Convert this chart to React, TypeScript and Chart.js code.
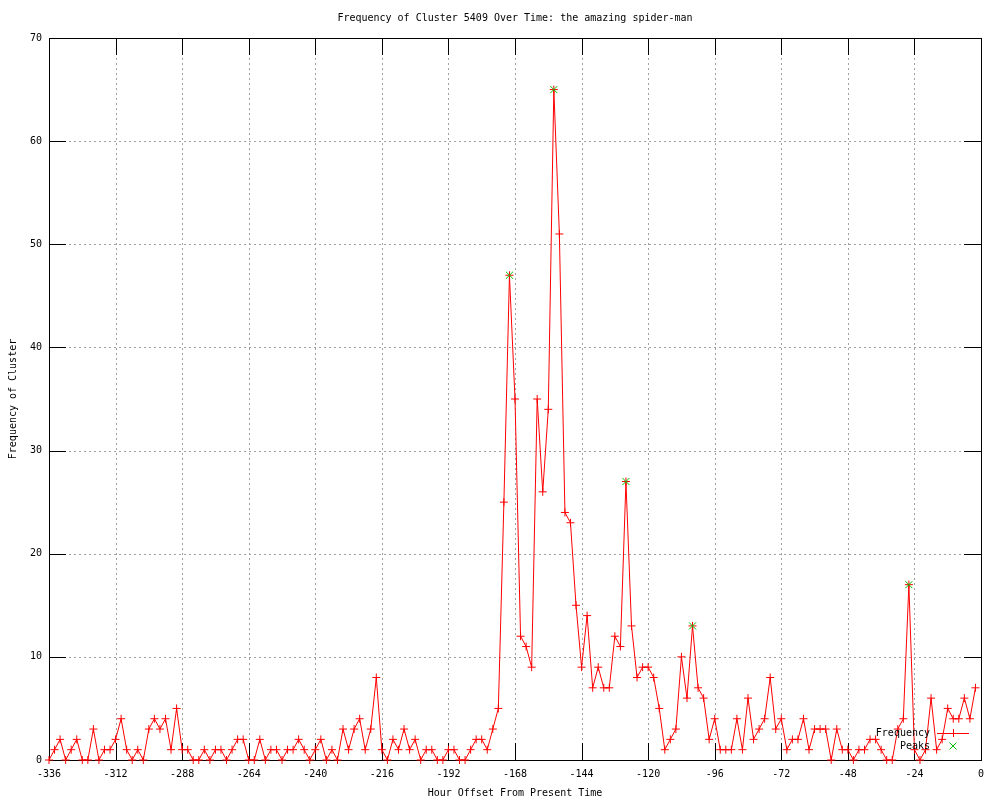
import React, { useEffect, useRef } from 'react';
import { Chart, registerables } from 'chart.js';

Chart.register(...registerables);

const TITLE = 'Frequency of Cluster 5409 Over Time: the amazing spider-man';
const X_TITLE = 'Hour Offset From Present Time';
const Y_TITLE = 'Frequency of Cluster';

const HOURS = [
  -336, -334, -332, -330, -328, -326, -324, -322, -320, -318, -316, -314,
  -312, -310, -308, -306, -304, -302, -300, -298, -296, -294, -292, -290,
  -288, -286, -284, -282, -280, -278, -276, -274, -272, -270, -268, -266,
  -264, -262, -260, -258, -256, -254, -252, -250, -248, -246, -244, -242,
  -240, -238, -236, -234, -232, -230, -228, -226, -224, -222, -220, -218,
  -216, -214, -212, -210, -208, -206, -204, -202, -200, -198, -196, -194,
  -192, -190, -188, -186, -184, -182, -180, -178, -176, -174, -172, -170,
  -168, -166, -164, -162, -160, -158, -156, -154, -152, -150, -148, -146,
  -144, -142, -140, -138, -136, -134, -132, -130, -128, -126, -124, -122,
  -120, -118, -116, -114, -112, -110, -108, -106, -104, -102, -100, -98,
  -96, -94, -92, -90, -88, -86, -84, -82, -80, -78, -76, -74,
  -72, -70, -68, -66, -64, -62, -60, -58, -56, -54, -52, -50,
  -48, -46, -44, -42, -40, -38, -36, -34, -32, -30, -28, -26,
  -24, -22, -20, -18, -16, -14, -12, -10, -8, -6, -4, -2,
];

const FREQUENCY = [
  0, 1, 2, 0, 1, 2, 0, 0, 3, 0, 1, 1,
  2, 4, 1, 0, 1, 0, 3, 4, 3, 4, 1, 5,
  1, 1, 0, 0, 1, 0, 1, 1, 0, 1, 2, 2,
  0, 0, 2, 0, 1, 1, 0, 1, 1, 2, 1, 0,
  1, 2, 0, 1, 0, 3, 1, 3, 4, 1, 3, 8,
  1, 0, 2, 1, 3, 1, 2, 0, 1, 1, 0, 0,
  1, 1, 0, 0, 1, 2, 2, 1, 3, 5, 25, 47,
  35, 12, 11, 9, 35, 26, 34, 65, 51, 24, 23, 15,
  9, 14, 7, 9, 7, 7, 12, 11, 27, 13, 8, 9,
  9, 8, 5, 1, 2, 3, 10, 6, 13, 7, 6, 2,
  4, 1, 1, 1, 4, 1, 6, 2, 3, 4, 8, 3,
  4, 1, 2, 2, 4, 1, 3, 3, 3, 0, 3, 1,
  1, 0, 1, 1, 2, 2, 1, 0, 0, 3, 4, 17,
  1, 0, 1, 6, 1, 2, 5, 4, 4, 6, 4, 7,
];

const PEAK_HOURS = [-170, -154, -128, -104, -26];
const PEAK_VALUES = [47, 65, 27, 13, 17];

const X_MIN = -336;
const X_MAX = 0;
const X_STEP = 24;
const Y_MIN = 0;
const Y_MAX = 70;
const Y_STEP = 10;

const FONT = '10px "DejaVu Sans Mono"';
const RED = '#ff0000';
const GREEN = '#00c000';
const GRID = '#a0a0a0';
const TICK_LEN = 17;

const decorPlugin = {
  id: 'gnuplotDecor',
  beforeDatasetsDraw(chart: any) {
    const { ctx, chartArea } = chart;
    const { left, right, top, bottom } = chartArea;
    const xs = chart.scales.x;
    const ys = chart.scales.y;
    ctx.save();
    // grid
    ctx.strokeStyle = GRID;
    ctx.lineWidth = 1;
    ctx.setLineDash([2, 3]);
    xs.ticks.forEach((t: any) => {
      if (t.value <= X_MIN || t.value >= X_MAX) return;
      const px = Math.round(xs.getPixelForValue(t.value)) + 0.5;
      ctx.beginPath();
      ctx.moveTo(px, top);
      ctx.lineTo(px, bottom);
      ctx.stroke();
    });
    ys.ticks.forEach((t: any) => {
      if (t.value <= Y_MIN || t.value >= Y_MAX) return;
      const py = Math.round(ys.getPixelForValue(t.value)) + 0.5;
      ctx.beginPath();
      ctx.moveTo(left, py);
      ctx.lineTo(right, py);
      ctx.stroke();
    });
    ctx.setLineDash([]);
    // tick marks
    ctx.strokeStyle = '#000';
    xs.ticks.forEach((t: any) => {
      const px = Math.round(xs.getPixelForValue(t.value)) + 0.5;
      ctx.beginPath();
      ctx.moveTo(px, bottom);
      ctx.lineTo(px, bottom - TICK_LEN);
      ctx.moveTo(px, top);
      ctx.lineTo(px, top + TICK_LEN);
      ctx.stroke();
    });
    ys.ticks.forEach((t: any) => {
      const py = Math.round(ys.getPixelForValue(t.value)) + 0.5;
      ctx.beginPath();
      ctx.moveTo(left, py);
      ctx.lineTo(left + TICK_LEN, py);
      ctx.moveTo(right, py);
      ctx.lineTo(right - TICK_LEN, py);
      ctx.stroke();
    });
    // frame
    ctx.strokeRect(Math.round(left) + 0.5, Math.round(top) + 0.5, Math.round(right - left), Math.round(bottom - top));
    ctx.restore();
  },
  afterDraw(chart: any) {
    const { ctx, chartArea } = chart;
    const { left, right, top, bottom } = chartArea;
    const cx = (left + right) / 2;
    ctx.save();
    ctx.font = FONT;
    ctx.fillStyle = '#000';
    ctx.textBaseline = 'middle';
    ctx.textAlign = 'center';
    ctx.fillText(TITLE, cx, 18);
    ctx.fillText(X_TITLE, cx, 793);
    ctx.save();
    ctx.translate(13, (top + bottom) / 2);
    ctx.rotate(-Math.PI / 2);
    ctx.fillText(Y_TITLE, 0, 0);
    ctx.restore();
    // key
    const ds = chart.data.datasets;
    ctx.textAlign = 'right';
    const keyTextX = 930;
    const keyY0 = 733;
    const keyDy = 13;
    const sampleX1 = 937;
    const sampleX2 = 969;
    const sampleMid = 953;
    ctx.fillText(ds[0].label, keyTextX, keyY0);
    ctx.fillText(ds[1].label, keyTextX, keyY0 + keyDy);
    ctx.lineWidth = 1;
    ctx.strokeStyle = RED;
    ctx.beginPath();
    ctx.moveTo(sampleX1, keyY0 + 0.5);
    ctx.lineTo(sampleX2, keyY0 + 0.5);
    ctx.moveTo(sampleMid + 0.5, keyY0 - 4);
    ctx.lineTo(sampleMid + 0.5, keyY0 + 4);
    ctx.stroke();
    ctx.strokeStyle = GREEN;
    const gy = keyY0 + keyDy;
    ctx.beginPath();
    ctx.moveTo(sampleMid - 3.5, gy - 3.5);
    ctx.lineTo(sampleMid + 3.5, gy + 3.5);
    ctx.moveTo(sampleMid - 3.5, gy + 3.5);
    ctx.lineTo(sampleMid + 3.5, gy - 3.5);
    ctx.stroke();
    ctx.restore();
  },
};

export default function App() {
  const canvasRef = useRef<HTMLCanvasElement | null>(null);

  useEffect(() => {
    const canvas = canvasRef.current;
    if (!canvas) return;
    const chart = new Chart(canvas, {
      type: 'line',
      data: {
        datasets: [
          {
            label: 'Frequency',
            data: HOURS.map((h, i) => ({ x: h, y: FREQUENCY[i] })),
            borderColor: RED,
            backgroundColor: RED,
            borderWidth: 1,
            pointStyle: 'cross',
            pointRadius: 4,
            pointBorderColor: RED,
            pointBorderWidth: 1,
            tension: 0,
            fill: false,
            clip: false,
            order: 1,
          } as any,
          {
            label: 'Peaks',
            data: PEAK_HOURS.map((h, i) => ({ x: h, y: PEAK_VALUES[i] })),
            showLine: false,
            borderColor: GREEN,
            backgroundColor: GREEN,
            pointStyle: 'crossRot',
            pointRadius: 5,
            pointBorderColor: GREEN,
            pointBorderWidth: 1,
            clip: false,
            order: 0,
          } as any,
        ],
      },
      options: {
        responsive: false,
        animation: false,
        events: [],
        layout: { padding: { top: 38, right: 19, left: 0, bottom: 0 } },
        plugins: {
          legend: { display: false },
          title: { display: false },
          tooltip: { enabled: false },
        },
        scales: {
          x: {
            type: 'linear',
            min: X_MIN,
            max: X_MAX,
            ticks: {
              stepSize: X_STEP,
              color: '#000',
              font: { family: 'DejaVu Sans Mono', size: 10 },
              padding: 8,
              maxRotation: 0,
              autoSkip: false,
            },
            grid: { display: false, drawTicks: false },
            border: { display: false },
            afterFit: (s: any) => {
              s.height = 40;
            },
          },
          y: {
            min: Y_MIN,
            max: Y_MAX,
            ticks: {
              stepSize: Y_STEP,
              color: '#000',
              font: { family: 'DejaVu Sans Mono', size: 10 },
              padding: 7,
            },
            grid: { display: false, drawTicks: false },
            border: { display: false },
            afterFit: (s: any) => {
              s.width = 49;
            },
          },
        },
      } as any,
      plugins: [decorPlugin],
    });
    return () => chart.destroy();
  }, []);

  return (
    <div style={{ position: 'fixed', left: 0, top: 0, width: 1000, height: 800, background: '#fff' }}>
      <canvas ref={canvasRef} width={1000} height={800} style={{ display: 'block' }} />
    </div>
  );
}
